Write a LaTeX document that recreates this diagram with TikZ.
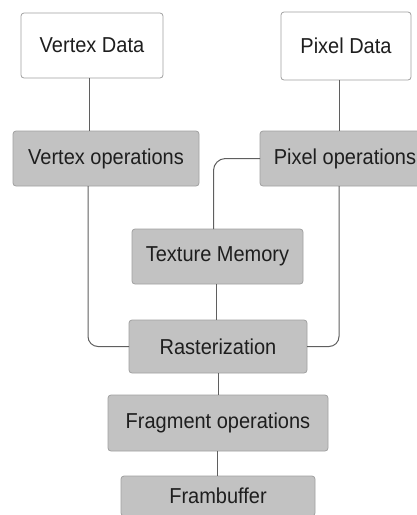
\documentclass[tikz,border=0pt]{standalone}
\usepackage{fontspec}
\setmainfont{Liberation Sans}
\definecolor{boxfill}{RGB}{194,194,194}
\definecolor{boxline}{RGB}{160,160,160}
\definecolor{wireline}{RGB}{95,95,95}
\definecolor{labeltext}{RGB}{30,30,30}
% labels are set slightly taller than the plain font
\newcommand{\tallword}[1]{\scalebox{1}[1.08]{#1}}
\begin{document}
\begin{tikzpicture}[x=1pt,y=-1pt,
  every node/.style={inner sep=0pt, outer sep=0pt, text=labeltext,
    font=\fontsize{20}{24}\selectfont},
  databox/.style={draw=boxline, fill=white, rounded corners=3pt, line width=0.8pt},
  opbox/.style={draw=boxline, fill=boxfill, rounded corners=3pt, line width=0.8pt},
  wire/.style={draw=wireline, line width=1pt}]
\useasboundingbox (0,0) rectangle (417,515);
\clip (0,0) rectangle (417,515);

% boxes
\node[databox, minimum width=142pt, minimum height=65pt] (vd) at (92,45.5) {\tallword{Vertex Data}};
\node[databox, minimum width=130pt, minimum height=68pt] (pd) at (346,46) {\tallword{Pixel Data}};
\node[opbox, minimum width=186pt, minimum height=55pt] (vo) at (106,158.5) {\tallword{Vertex operations}};
\node[opbox, minimum width=170pt, minimum height=55pt] (po) at (345,158.5) {\tallword{Pixel operations}};
\node[opbox, minimum width=171pt, minimum height=55pt] (tm) at (217.5,256.5) {\tallword{Texture Memory}};
\node[opbox, minimum width=178pt, minimum height=53pt] (ra) at (218,346.5) {\tallword{Rasterization}};
\node[opbox, minimum width=220pt, minimum height=56pt] (fo) at (218,423) {\tallword{Fragment operations}};
\node[opbox, minimum width=194pt, minimum height=40pt] (fb) at (218,496) {\tallword{Frambuffer}};

% connectors
\draw[wire] ([xshift=-3pt]vd.south) -- ([xshift=-3pt]vd.south |- vo.north);
\draw[wire] ([xshift=-7pt]pd.south) -- ([xshift=-7pt]pd.south |- po.north);
\draw[wire, rounded corners=10pt] ([xshift=-18pt]vo.south) |- (ra.west);
\draw[wire, rounded corners=10pt] ([xshift=-6pt]po.south) |- (ra.east);
\draw[wire, rounded corners=12pt] (po.west) -| ([xshift=-4pt]tm.north);
\draw[wire] ([xshift=-1pt]tm.south) -- ([xshift=-1pt]tm.south |- ra.north);
\draw[wire] (ra.south) -- (fo.north);
\draw[wire] ([xshift=-1pt]fo.south) -- ([xshift=-1pt]fo.south |- fb.north);
\end{tikzpicture}
\end{document}
